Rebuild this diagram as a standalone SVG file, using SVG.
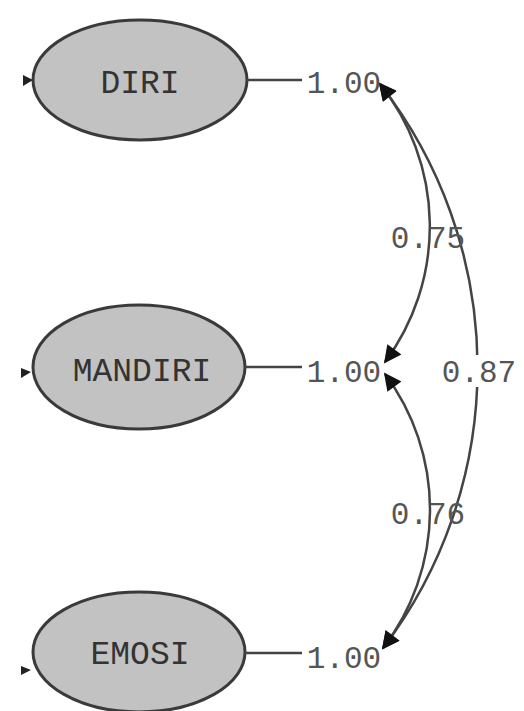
<svg xmlns="http://www.w3.org/2000/svg" width="524" height="711" viewBox="0 0 524 711">
<style>
.node ellipse{fill:#c2c2c2;stroke:#3a3a3a;stroke-width:3}
.name{font-family:"Liberation Mono","Courier New",monospace;font-size:33px;fill:#333;text-anchor:middle}
.lbl{font-family:"Liberation Mono","Courier New",monospace;font-size:31px;fill:#555;text-anchor:middle}
.edge{fill:none;stroke:#444;stroke-width:2.5}
.bg{fill:#fff}
.tick{fill:#222}
</style>
<defs>
<marker id="ah" viewBox="0 0 10 10" refX="9" refY="5" markerWidth="8" markerHeight="7" markerUnits="strokeWidth" orient="auto-start-reverse">
<path d="M0,0 L10,5 L0,10 z" fill="#111"/>
</marker>
</defs>
<g id="DIRI" class="node">
<ellipse cx="140" cy="80" rx="107" ry="60"/>
<polygon class="tick" points="23,75 33,80 23,86"/>
<text class="name" x="140" y="93">DIRI</text>
</g>
<g id="MANDIRI" class="node">
<ellipse cx="139" cy="367" rx="106" ry="62"/>
<polygon class="tick" points="21,368 31,372 21,378"/>
<text class="name" x="142" y="381">MANDIRI</text>
</g>
<g id="EMOSI" class="node">
<ellipse cx="139" cy="652" rx="106" ry="60"/>
<polygon class="tick" points="21,666 31,670 21,675"/>
<text class="name" x="140" y="664">EMOSI</text>
</g>
<g id="connectors">
<line class="edge" x1="247" y1="80" x2="302" y2="80"/>
<line class="edge" x1="245" y1="367" x2="302" y2="367"/>
<line class="edge" x1="245" y1="653" x2="302" y2="653"/>
<path class="edge" d="M380,84 A462,462 0 0 1 383,648" marker-start="url(#ah)" marker-end="url(#ah)"/>
<rect class="bg" x="440" y="355" width="80" height="32"/>
<path class="edge" d="M380,84 A228,228 0 0 1 385,362" marker-start="url(#ah)" marker-end="url(#ah)"/>
<path class="edge" d="M385,374 A227,227 0 0 1 383,648" marker-start="url(#ah)" marker-end="url(#ah)"/>
</g>
<g id="labels">
<text class="lbl" x="344" y="93">1.00</text>
<text class="lbl" x="344" y="382">1.00</text>
<text class="lbl" x="344" y="668">1.00</text>
<text class="lbl" x="428" y="248">0.75</text>
<text class="lbl" x="428" y="524">0.76</text>
<text class="lbl" x="479" y="382">0.87</text>
</g>
</svg>
